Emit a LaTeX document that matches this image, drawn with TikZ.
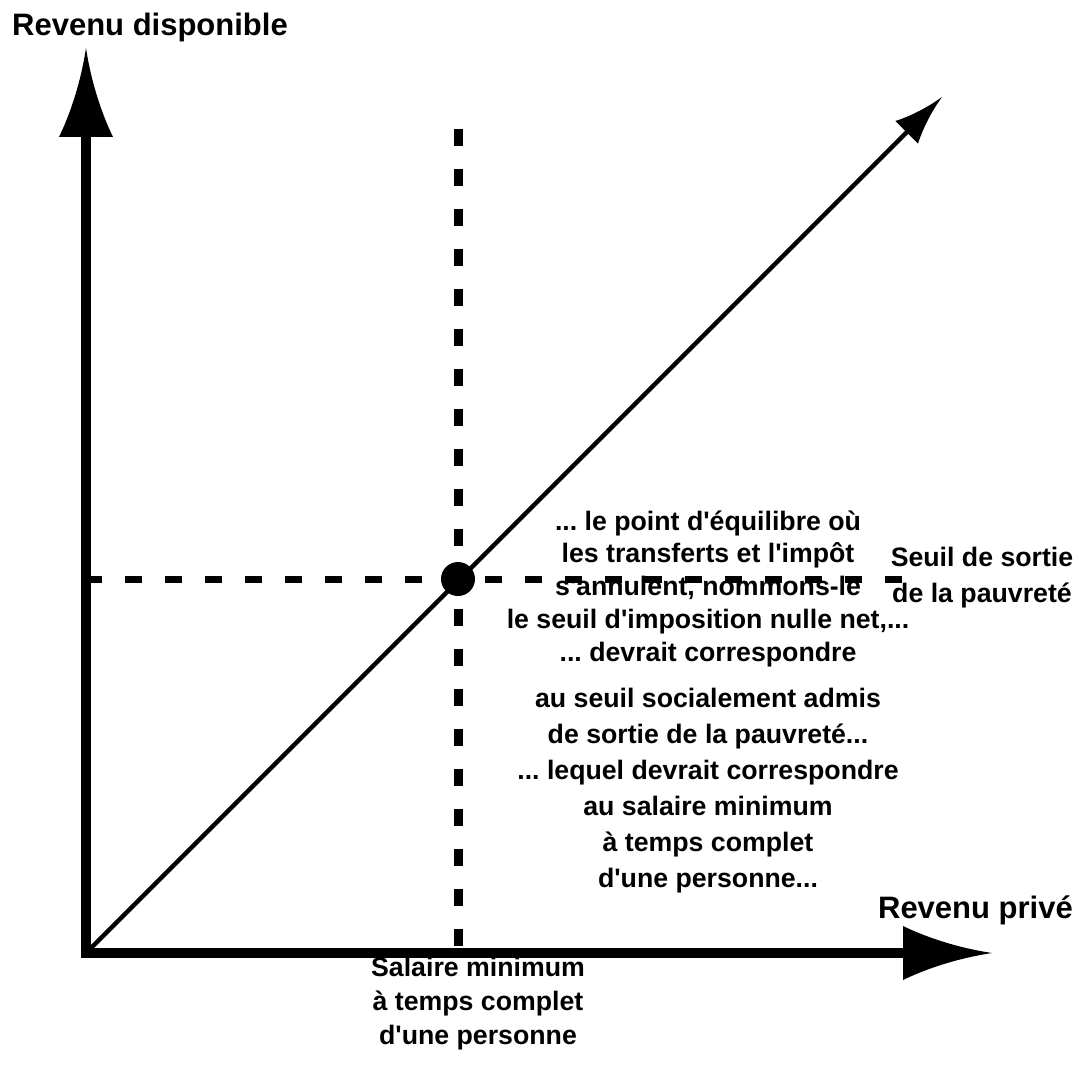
\documentclass[tikz,border=0pt]{standalone}
\usepackage{fontspec}
\setmainfont{Liberation Sans}
\usetikzlibrary{arrows.meta}
\newcommand{\ap}{\textquotesingle}
\frenchspacing

% arrow tip with hollowed sides
\pgfdeclarearrow{
  name = Spike,
  parameters = {\the\pgfarrowlength,\the\pgfarrowwidth},
  setup code = {
    \pgfarrowssettipend{\pgfarrowlength}
    \pgfarrowssetlineend{.25\pgfarrowlength}
    \pgfarrowssavethe\pgfarrowlength
    \pgfarrowssavethe\pgfarrowwidth
  },
  drawing code = {
    \pgfpathmoveto{\pgfqpoint{\pgfarrowlength}{0pt}}
    \pgfpathcurveto{\pgfqpoint{.6\pgfarrowlength}{.1\pgfarrowwidth}}{\pgfqpoint{.25\pgfarrowlength}{.3\pgfarrowwidth}}{\pgfqpoint{0pt}{.5\pgfarrowwidth}}
    \pgfpathlineto{\pgfqpoint{0pt}{-.5\pgfarrowwidth}}
    \pgfpathcurveto{\pgfqpoint{.25\pgfarrowlength}{-.3\pgfarrowwidth}}{\pgfqpoint{.6\pgfarrowlength}{-.1\pgfarrowwidth}}{\pgfqpoint{\pgfarrowlength}{0pt}}
    \pgfpathclose
    \pgfusepathqfill
  },
  defaults = {length = 10pt, width = 6pt}
}

\begin{document}
\begin{tikzpicture}[x=1pt, y=-1pt,
  axis/.style={line width=10pt, -{Spike[length=89pt, width=54pt]}},
  diag/.style={line width=4.5pt, -{Spike[length=50pt, width=32pt]}},
  guide/.style={dash pattern=on 17pt off 23pt},
  axislabel/.style={font=\fontsize{31}{36}\selectfont\bfseries, inner sep=0pt},
  note/.style={font=\fontsize{26.7}{32.75}\selectfont\bfseries, align=center, inner sep=0pt}
]
  \useasboundingbox (0,0) rectangle (1078,1078);

  \coordinate (O) at (86,953);
  \coordinate (ybot) at (86,958);
  \coordinate (xleft) at (81,953);
  \coordinate (ytip) at (86,48);
  \coordinate (xtip) at (992,953);
  \coordinate (dtip) at (942,97);

  % axes
  \draw[axis] (ybot) -- (ytip);
  \draw[axis] (xleft) -- (xtip);
  \draw[diag] (O) -- (dtip);

  % guides through the break-even point
  \coordinate (vtop) at (458,129);
  \coordinate (vbot) at (458,946);
  \coordinate (hleft) at (90,579);
  \coordinate (hright) at (903,579);
  \draw[guide, line width=9pt] (vtop) -- (vbot);
  \draw[guide, line width=7pt, dash phase=5pt] (hleft) -- (hright);
  \fill (458,579) circle (17pt);

  % labels (multi-line nodes: base = last line)
  \node[axislabel, anchor=base west] (ylab) at (12,36) {Revenu disponible};
  \node[axislabel, anchor=base east] (xlab) at (1073,918) {Revenu privé};

  \node[note, anchor=base] (txt1) at (708,661) {... le point d\ap équilibre où\\
    les transferts et l\ap impôt\\ s\ap annulent, nommons-le\\
    le seuil d\ap imposition nulle net,...\\ ... devrait correspondre};
  \node[note, anchor=base, font=\fontsize{26.7}{36}\selectfont\bfseries] (txt2) at (708,887) {au seuil socialement admis\\
    de sortie de la pauvreté...\\ ... lequel devrait correspondre\\
    au salaire minimum\\ à temps complet\\ d\ap une personne...};

  \node[note, anchor=base, font=\fontsize{26.7}{36}\selectfont\bfseries] (seuil) at (982,602) {Seuil de sortie\\ de la pauvreté};
  \node[note, anchor=base, font=\fontsize{26.7}{34}\selectfont\bfseries] (smic) at (478,1044) {Salaire minimum\\ à temps complet\\ d\ap une personne};
\end{tikzpicture}
\end{document}
